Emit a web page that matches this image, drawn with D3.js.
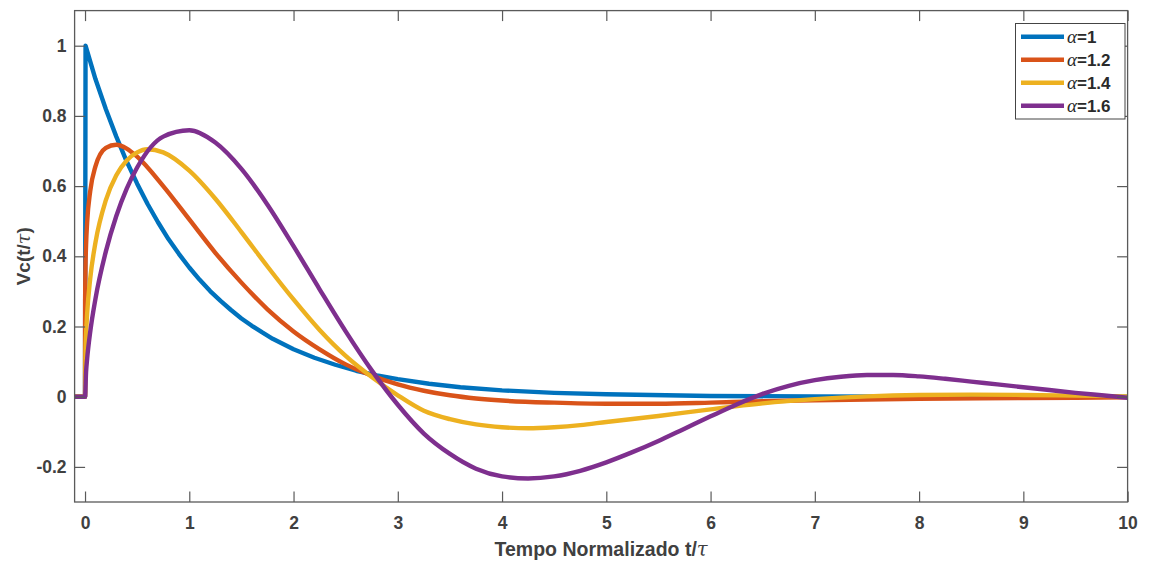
<!DOCTYPE html>
<html>
<head>
<meta charset="utf-8">
<script src="https://cdn.jsdelivr.net/npm/d3@7"></script>
<style>
  body { margin: 0; background: #fff; }
  svg { display: block; }
  text { font-family: "Liberation Sans", Arial, sans-serif; }
</style>
</head>
<body>
<svg id="chart" width="1149" height="562"></svg>
<script>
// Axis ticks
const xTicks = [0, 1, 2, 3, 4, 5, 6, 7, 8, 9, 10];
const yTicks = [-0.2, 0, 0.2, 0.4, 0.6, 0.8, 1];
const yTickLabels = ["-0.2", "0", "0.2", "0.4", "0.6", "0.8", "1"];

// Legend entries (fractional order alpha) and line colours
const alphaLabels = ["1", "1.2", "1.4", "1.6"];
const seriesColors = ["#0072BD", "#D95319", "#EDB120", "#7E2F8E"];

// Capacitor voltage vs normalized time, alpha = 1
const tA10 = [-0.1, 0, 0.005, 0.1, 0.2, 0.3, 0.4, 0.5, 0.6, 0.7, 0.8, 0.9, 1.0, 1.1, 1.2, 1.3, 1.4, 1.5, 1.6, 1.7, 1.8, 1.9, 2.0, 2.2, 2.4, 2.6, 2.8, 3.0, 3.3, 3.6, 4.0, 4.5, 5.0, 6.0, 7.0, 8.0, 9.0, 10.0];
const vA10 = [0, 0, 1.0, 0.905, 0.819, 0.741, 0.670, 0.607, 0.549, 0.497, 0.449, 0.407, 0.368, 0.333, 0.301, 0.273, 0.247, 0.223, 0.202, 0.183, 0.165, 0.150, 0.135, 0.111, 0.091, 0.074, 0.061, 0.050, 0.037, 0.027, 0.018, 0.011, 0.007, 0.002, 0.001, 0.0, 0.0, 0.0];

// alpha = 1.2
const tA12 = [-0.1, 0, 0.001, 0.005, 0.01, 0.02, 0.05, 0.1, 0.2, 0.3, 0.4, 0.5, 0.75, 1.0, 1.25, 1.5, 1.75, 2.0, 2.25, 2.5, 2.75, 3.0, 3.25, 3.5, 3.75, 4.0, 4.5, 5.0, 5.5, 6.0, 6.5, 7.0, 8.0, 9.0, 10.0];
const vA12 = [0, 0, 0.274, 0.377, 0.432, 0.495, 0.586, 0.656, 0.709, 0.718, 0.707, 0.684, 0.600, 0.505, 0.410, 0.325, 0.249, 0.186, 0.135, 0.092, 0.060, 0.035, 0.017, 0.004, -0.005, -0.011, -0.017, -0.020, -0.020, -0.017, -0.013, -0.010, -0.006, -0.004, -0.002];

// alpha = 1.4
const tA14 = [-0.1, 0, 0.005, 0.01, 0.02, 0.05, 0.1, 0.2, 0.3, 0.4, 0.5, 0.6, 0.75, 1.0, 1.25, 1.5, 1.75, 2.0, 2.25, 2.5, 2.75, 3.0, 3.25, 3.5, 3.75, 4.0, 4.25, 4.5, 4.75, 5.0, 5.5, 6.0, 6.5, 7.0, 7.5, 8.0, 8.5, 9.0, 9.5, 10.0];
const vA14 = [0, 0, 0.135, 0.178, 0.235, 0.337, 0.439, 0.560, 0.631, 0.673, 0.696, 0.705, 0.696, 0.644, 0.564, 0.469, 0.371, 0.277, 0.190, 0.116, 0.056, 0.004, -0.040, -0.064, -0.079, -0.087, -0.090, -0.087, -0.081, -0.072, -0.055, -0.036, -0.019, -0.007, 0.001, 0.005, 0.006, 0.005, 0.003, 0.001];

// alpha = 1.6
const tA16 = [-0.1, 0, 0.01, 0.02, 0.05, 0.1, 0.2, 0.3, 0.4, 0.5, 0.75, 1.0, 1.25, 1.5, 1.75, 2.0, 2.25, 2.5, 2.75, 3.0, 3.25, 3.5, 3.75, 4.0, 4.25, 4.5, 4.75, 5.0, 5.25, 5.5, 5.75, 6.0, 6.25, 6.5, 6.75, 7.0, 7.25, 7.5, 7.75, 8.0, 8.25, 8.5, 8.75, 9.0, 9.25, 9.5, 9.75, 10.0];
const vA16 = [0, 0, 0.071, 0.107, 0.185, 0.279, 0.414, 0.515, 0.593, 0.653, 0.741, 0.759, 0.724, 0.649, 0.547, 0.429, 0.306, 0.186, 0.075, -0.023, -0.105, -0.163, -0.205, -0.227, -0.233, -0.227, -0.211, -0.187, -0.158, -0.126, -0.091, -0.056, -0.022, 0.008, 0.031, 0.047, 0.057, 0.062, 0.062, 0.058, 0.051, 0.043, 0.035, 0.027, 0.019, 0.011, 0.004, -0.003];

const series = [
  { t: tA10, v: vA10, curve: d3.curveLinear },
  { t: tA12, v: vA12, curve: d3.curveMonotoneX },
  { t: tA14, v: vA14, curve: d3.curveMonotoneX },
  { t: tA16, v: vA16, curve: d3.curveMonotoneX }
];

const svg = d3.select("#chart");
const plotLeft = 74.6, plotRight = 1127.6, plotTop = 10.6, plotBottom = 502;

const x = d3.scaleLinear().domain([-0.1, 10]).range([plotLeft, plotRight]);
const y = d3.scaleLinear().domain([-0.3, 1.1]).range([plotBottom, plotTop]);

const axisColor = "#5a5a5a";
const labelColor = "#404040";
const tickLen = 10.5;

// Clip for the data lines
svg.append("defs").append("clipPath").attr("id", "plotClip")
  .append("rect").attr("x", plotLeft).attr("y", plotTop)
  .attr("width", plotRight - plotLeft).attr("height", plotBottom - plotTop);

// Curves
const lines = svg.append("g").attr("clip-path", "url(#plotClip)");
series.forEach((s, i) => {
  const line = d3.line()
    .x(d => x(d[0]))
    .y(d => y(d[1]))
    .curve(s.curve);
  const pts = s.t.map((tt, k) => [tt, s.v[k]]);
  lines.append("path")
    .attr("d", line(pts))
    .attr("fill", "none")
    .attr("stroke", seriesColors[i])
    .attr("stroke-width", 4.4)
    .attr("stroke-linejoin", "round")
    .attr("stroke-linecap", "butt");
});

// Axes with inward ticks on all four sides
function styleAxis(g) {
  g.select(".domain").remove();
  g.selectAll(".tick line").attr("stroke", axisColor).attr("stroke-width", 1.2);
  g.selectAll(".tick text")
    .attr("fill", labelColor)
    .style("font-size", "17.5px")
    .style("font-weight", "bold");
}

svg.append("g")
  .attr("transform", `translate(0,${plotBottom})`)
  .call(d3.axisBottom(x).tickValues(xTicks).tickFormat(d3.format("d"))
    .tickSizeInner(-tickLen).tickSizeOuter(0).tickPadding(15))
  .call(styleAxis);

svg.append("g")
  .attr("transform", `translate(0,${plotTop})`)
  .call(d3.axisTop(x).tickValues(xTicks).tickFormat("")
    .tickSizeInner(-tickLen).tickSizeOuter(0))
  .call(styleAxis);

svg.append("g")
  .attr("transform", `translate(${plotLeft},0)`)
  .call(d3.axisLeft(y).tickValues(yTicks).tickFormat((d, i) => yTickLabels[i])
    .tickSizeInner(-tickLen).tickSizeOuter(0).tickPadding(8))
  .call(styleAxis);

svg.append("g")
  .attr("transform", `translate(${plotRight},0)`)
  .call(d3.axisRight(y).tickValues(yTicks).tickFormat("")
    .tickSizeInner(-tickLen).tickSizeOuter(0))
  .call(styleAxis);

// Axes box
svg.append("rect")
  .attr("x", plotLeft).attr("y", plotTop)
  .attr("width", plotRight - plotLeft).attr("height", plotBottom - plotTop)
  .attr("fill", "none").attr("stroke", axisColor).attr("stroke-width", 1.3);

// Axis titles
const xTitle = svg.append("text")
  .attr("x", (plotLeft + plotRight) / 2).attr("y", 556)
  .attr("text-anchor", "middle")
  .attr("fill", labelColor)
  .style("font-size", "19.5px").style("font-weight", "bold");
xTitle.append("tspan").text("Tempo Normalizado t/");
xTitle.append("tspan").text("τ")
  .style("font-family", "'DejaVu Serif', 'Liberation Serif', serif")
  .style("font-style", "italic").style("font-weight", "normal");

const yTitle = svg.append("text")
  .attr("transform", `translate(30,${(plotTop + plotBottom) / 2}) rotate(-90)`)
  .attr("text-anchor", "middle")
  .attr("fill", labelColor)
  .style("font-size", "19px").style("font-weight", "bold");
yTitle.append("tspan").text("Vc(t/");
yTitle.append("tspan").text("τ")
  .style("font-family", "'DejaVu Serif', 'Liberation Serif', serif")
  .style("font-style", "italic").style("font-weight", "normal");
yTitle.append("tspan").text(")");

// Legend
const legend = svg.append("g");
legend.append("rect")
  .attr("x", 1015.5).attr("y", 23.5).attr("width", 109.5).attr("height", 95.5)
  .attr("fill", "#fff").attr("stroke", "#444").attr("stroke-width", 1);

alphaLabels.forEach((lab, i) => {
  const ly = 36.7 + i * 23;
  legend.append("line")
    .attr("x1", 1021).attr("x2", 1064)
    .attr("y1", ly).attr("y2", ly)
    .attr("stroke", seriesColors[i]).attr("stroke-width", 4.4);
  const t = legend.append("text")
    .attr("x", 1067).attr("y", ly + 6)
    .attr("fill", "#2a2a2a")
    .style("font-size", "17px");
  t.append("tspan").text("α")
    .style("font-family", "'Liberation Serif', 'DejaVu Serif', serif")
    .style("font-style", "italic").style("font-size", "19px");
  t.append("tspan").text("=" + lab).style("font-weight", "bold");
});
</script>
</body>
</html>
